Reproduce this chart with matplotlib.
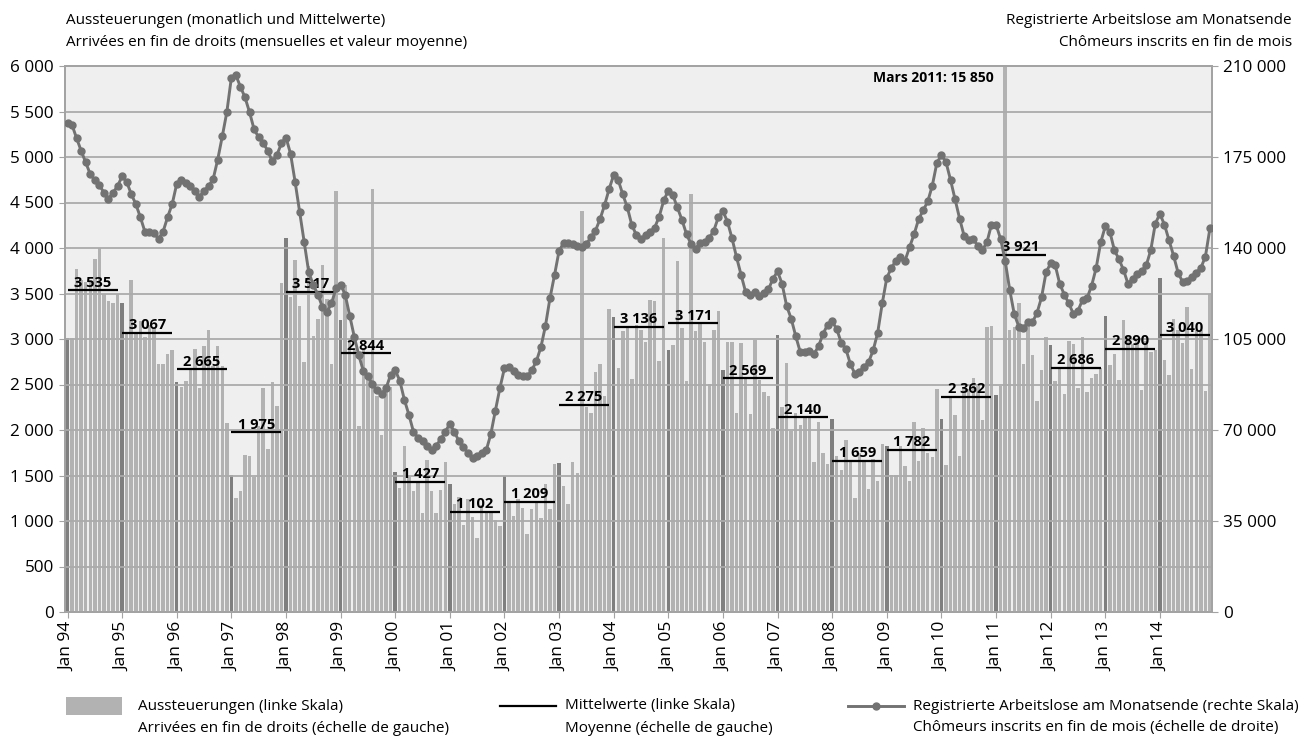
import numpy as np
import matplotlib
matplotlib.use("Agg")
import matplotlib.pyplot as plt
from matplotlib.ticker import FuncFormatter, FixedLocator
from matplotlib.patches import Rectangle
from matplotlib.lines import Line2D

plt.rcParams['font.family'] = ['Open Sans', 'DejaVu Sans']

# ---------------- data ----------------
jahre = list(range(1994, 2015))
tick_labels = ["Jan 94", "Jan 95", "Jan 96", "Jan 97", "Jan 98", "Jan 99", "Jan 00",
               "Jan 01", "Jan 02", "Jan 03", "Jan 04", "Jan 05", "Jan 06", "Jan 07",
               "Jan 08", "Jan 09", "Jan 10", "Jan 11", "Jan 12", "Jan 13", "Jan 14"]

# monthly exhaustions (left scale), Jan 1994 .. Dec 2014
aussteuerungen = [
    3015, 3015, 3774, 3650, 3630, 3630, 3883, 4004, 3500, 3416, 3400, 3500,
    3400, 3050, 3646, 3050, 3200, 3018, 3150, 3120, 2726, 2726, 2836, 2880,
    2525, 2475, 2543, 2656, 2890, 2461, 2922, 3095, 2700, 2922, 2708, 2078,
    1510, 1248, 1328, 1723, 1712, 1480, 2040, 2460, 1786, 2526, 2267, 3620,
    4113, 3464, 3865, 3361, 2744, 3803, 3033, 3219, 3810, 3445, 2726, 4621,
    3208, 3591, 3000, 2900, 2040, 2900, 2591, 4650, 2369, 1941, 2460, 2478,
    1533, 1365, 1821, 1485, 1328, 1420, 1091, 1675, 1328, 1091, 1337, 1650,
    1412, 1182, 1266, 955, 1240, 1047, 810, 1176, 1086, 1091, 1008, 949,
    1493, 1200, 1050, 1237, 1140, 854, 1130, 1219, 1028, 1412, 1128, 1621,
    1639, 1390, 1182, 1650, 1529, 4405, 2248, 2186, 2642, 2726, 2378, 3325,
    3244, 2679, 3088, 3117, 2555, 3153, 3099, 2971, 3434, 3416, 2763, 4113,
    2880, 2934, 3858, 3117, 2540, 4588, 3090, 3172, 2963, 2504, 3099, 3307,
    2661, 2963, 2963, 2186, 2953, 2573, 2175, 2989, 2551, 2423, 2369, 2022,
    3044, 2250, 2741, 1990, 2186, 2060, 2150, 2150, 1650, 2087, 1748, 1624,
    2124, 1719, 1560, 1894, 1646, 1250, 1748, 1646, 1350, 1682, 1438, 1850,
    1828, 1504, 1504, 1828, 1609, 1438, 2087, 1664, 2022, 1750, 1698, 2452,
    2124, 1613, 2369, 2168, 1711, 2478, 2449, 2569, 2485, 2106, 3135, 3142,
    2387, 2485, 15850, 3098, 3135, 3401, 2726, 3153, 2825, 2314, 2660, 3018,
    2934, 2540, 2668, 2398, 2978, 2945, 2460, 3018, 2423, 2569, 2617, 2682,
    3252, 2715, 2836, 2551, 3208, 3026, 2947, 2980, 2442, 2982, 2861, 2880,
    3675, 2770, 2606, 3215, 3100, 2953, 3354, 2671, 3100, 3102, 2434, 3500,
]

# yearly means (left scale)
mittelwerte = [3535, 3067, 2665, 1975, 3517, 2844, 1427, 1102, 1209, 2275, 3136,
               3171, 2569, 2140, 1659, 1782, 2362, 3921, 2686, 2890, 3040]

# registered unemployed at month end (right scale)
arbeitslose = [
    188100, 187300, 182200, 177400, 172900, 168400, 166100, 164200, 161300, 159000, 161300, 163800,
    167600, 165400, 160800, 156900, 151900, 146300, 146000, 145700, 143500, 146300, 151900, 156900,
    164700, 166200, 165100, 163800, 162000, 159700, 162000, 163800, 166500, 174000, 182900, 192200,
    205500, 206400, 202000, 197900, 192200, 185600, 182600, 180400, 177400, 173300, 175800, 180200,
    182500, 176300, 165500, 153800, 142300, 130700, 125800, 122100, 117300, 115400, 118700, 124500,
    125900, 122100, 114000, 105900, 98700, 92700, 90600, 87600, 85200, 83900, 86100, 91300,
    93000, 89000, 81700, 75900, 69400, 67000, 65600, 63700, 62200, 64000, 66400, 69400,
    72300, 69400, 65600, 63300, 61200, 59200, 60100, 61200, 62200, 68400, 77400, 86100,
    93800, 94300, 92700, 91300, 90600, 90600, 93000, 96400, 101800, 110000, 120700, 129600,
    138900, 141900, 141900, 141500, 140800, 140300, 141600, 144100, 146700, 151100, 156500, 162700,
    168100, 166100, 160600, 155600, 148700, 145000, 143300, 145000, 146000, 147800, 152100, 158300,
    162100, 160300, 155600, 150800, 145300, 141500, 139800, 141900, 142300, 143900, 146700, 151900,
    154200, 150100, 143700, 136400, 129600, 123000, 121800, 123000, 121700, 122800, 124100, 128200,
    131000, 126200, 117700, 112800, 106100, 99900, 99900, 100500, 99200, 102200, 107000, 110500,
    111800, 108800, 103600, 101200, 95400, 91600, 92400, 94300, 96100, 100600, 107400, 118700,
    128500, 132300, 135100, 136700, 135100, 140300, 145300, 151100, 154500, 157900, 164000, 172700,
    175800, 173100, 166200, 158700, 151300, 144600, 143000, 143300, 140900, 139200, 142200, 149000,
    149000, 143500, 135100, 124000, 114600, 109800, 109100, 111500, 111500, 115000, 121000, 130700,
    134100, 133400, 126200, 122100, 118700, 114600, 115900, 120000, 120700, 125500, 132300, 142200,
    148300, 146300, 139200, 135700, 131600, 126200, 128200, 129900, 131200, 133300, 139200, 149400,
    153100, 149000, 143000, 137100, 130500, 126900, 127500, 128900, 130500, 132300, 136700, 147600,
]

# ---------------- styling ----------------
W, H = 1302, 738
BAR = '#b2b2b2'
BAR_JAN = '#7f7f7f'
LINE = '#727272'
GRID = '#ababab'
SPINE = '#a3a3a3'


def sp(v):
    return f"{int(round(v)):,}".replace(",", " ")


fig = plt.figure(figsize=(W / 100, H / 100), dpi=100)
fig.patch.set_facecolor('white')

L, R, T, B = 65, 1212, 66, 612
ax = fig.add_axes([L / W, 1 - B / H, (R - L) / W, (B - T) / H])
ax.set_facecolor('#efefef')

n = len(aussteuerungen)
x = np.arange(n)
colors = [BAR_JAN if i % 12 == 0 else BAR for i in x]
ax.bar(x, aussteuerungen, width=0.76, color=colors, edgecolor='none', zorder=1)

ax.set_xlim(-0.55, n - 0.55)
ax.set_ylim(0, 6000)
ax.yaxis.set_major_locator(FixedLocator(np.arange(0, 6001, 500)))
ax.yaxis.set_major_formatter(FuncFormatter(lambda v, p: sp(v)))
ax.set_axisbelow(False)
ax.yaxis.grid(True, color=GRID, lw=1.3)
ax.xaxis.grid(False)

jan_pos = np.arange(0, n, 12)
ax.set_xticks(jan_pos)
ax.set_xticklabels(tick_labels, rotation=90, fontsize=12.5, va='top', ha='center')
ax.tick_params(axis='x', length=4, color=SPINE, pad=3)
ax.tick_params(axis='y', length=4, color=SPINE, labelsize=12.3, pad=4)
for s in ax.spines.values():
    s.set_color(SPINE)
    s.set_linewidth(1.3)

# yearly means
starts = jan_pos.astype(float)
ends = starts + 11
ax.hlines(mittelwerte, starts, ends, colors='black', lw=1.6, zorder=4)
for s0, e0, m in zip(starts, ends, mittelwerte):
    ax.annotate(sp(m), xy=((s0 + e0) / 2, m), xytext=(0, 0.5), textcoords='offset points',
                ha='center', va='bottom', fontsize=10.5, fontweight='bold', zorder=6)

# annotation of the clipped peak
imax = int(np.argmax(aussteuerungen))
ax.annotate(f"Mars 2011: {sp(aussteuerungen[imax])}", xy=(imax, 5870), xytext=(-8, 0),
            textcoords='offset points', ha='right', va='center', fontsize=10,
            fontweight='bold', zorder=6)

# right axis
ax2 = ax.twinx()
ax2.plot(x, arbeitslose, color=LINE, lw=2.1, marker='o', ms=5, zorder=5)
ax2.set_ylim(0, 210000)
ax2.yaxis.set_major_locator(FixedLocator(np.arange(0, 210001, 35000)))
ax2.yaxis.set_major_formatter(FuncFormatter(lambda v, p: sp(v)))
ax2.tick_params(axis='y', length=4, color=SPINE, labelsize=12.3, pad=4)
for s in ax2.spines.values():
    s.set_color(SPINE)
    s.set_linewidth(1.3)

# headers
fs_h = 11
fig.text(66 / W, 1 - 20 / H, "Aussteuerungen (monatlich und Mittelwerte)", ha='left', va='center', fontsize=fs_h)
fig.text(66 / W, 1 - 42 / H, "Arrivées en fin de droits (mensuelles et valeur moyenne)", ha='left', va='center', fontsize=fs_h)
fig.text(1292 / W, 1 - 20 / H, "Registrierte Arbeitslose am Monatsende", ha='right', va='center', fontsize=fs_h)
fig.text(1292 / W, 1 - 42 / H, "Chômeurs inscrits en fin de mois", ha='right', va='center', fontsize=fs_h)

# legend (figure coordinates)
fs_l = 11
y1, y2 = 1 - 706 / H, 1 - 728 / H
fig.add_artist(Rectangle((66 / W, 1 - 715 / H), 56 / W, 18 / H, transform=fig.transFigure,
                         facecolor=BAR, edgecolor='none'))
fig.text(138 / W, y1, "Aussteuerungen (linke Skala)", ha='left', va='center', fontsize=fs_l)
fig.text(138 / W, y2, "Arrivées en fin de droits (échelle de gauche)", ha='left', va='center', fontsize=fs_l)

fig.add_artist(Line2D([500 / W, 556 / W], [y1, y1], transform=fig.transFigure, color='black', lw=1.6))
fig.text(565 / W, y1, "Mittelwerte (linke Skala)", ha='left', va='center', fontsize=fs_l)
fig.text(565 / W, y2, "Moyenne (échelle de gauche)", ha='left', va='center', fontsize=fs_l)

kx0, kx1, tx = 848, 904, 913
fig.add_artist(Line2D([kx0 / W, kx1 / W], [y1, y1], transform=fig.transFigure, color=LINE, lw=2.1))
fig.add_artist(Line2D([(kx0 + kx1) / 2 / W], [y1], transform=fig.transFigure, color=LINE, marker='o', ms=5))
fig.text(tx / W, y1, "Registrierte Arbeitslose am Monatsende (rechte Skala)", ha='left', va='center', fontsize=fs_l)
fig.text(tx / W, y2, "Chômeurs inscrits en fin de mois (échelle de droite)", ha='left', va='center', fontsize=fs_l)

fig.savefig("out.png", dpi=100, facecolor='white')
